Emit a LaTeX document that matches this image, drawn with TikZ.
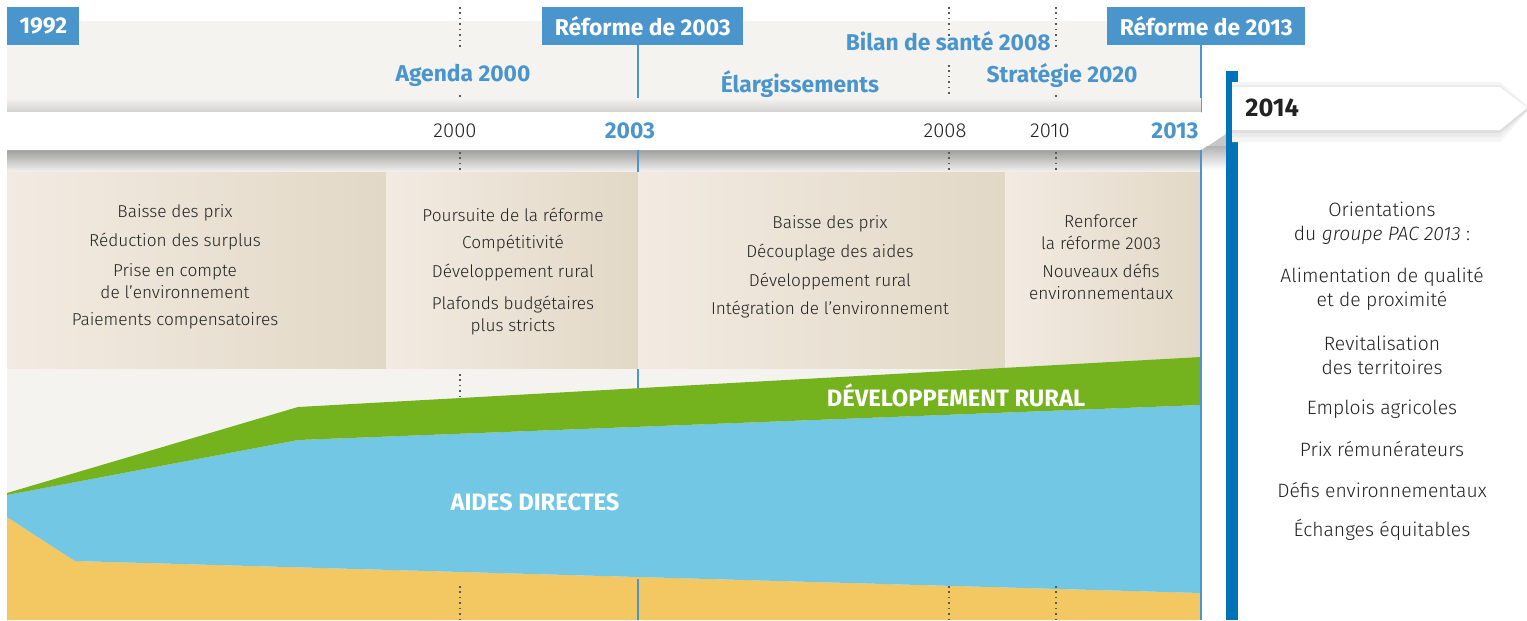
\documentclass[tikz,border=0pt]{standalone}
\usepackage{fontspec}
\setmainfont{Fira Sans}[UprightFont=* Light, ItalicFont=* Light Italic, BoldFont=* Bold]
\definecolor{pblue}{HTML}{4A95CC}
\definecolor{dblue}{HTML}{0072B9}
\definecolor{panel}{HTML}{F4F3F0}
\definecolor{beigeL}{HTML}{F2EBE2}
\definecolor{beigeR}{HTML}{E2D8C6}
\definecolor{rgreen}{HTML}{74B21E}
\definecolor{ablue}{HTML}{71C7E4}
\definecolor{ayel}{HTML}{F3C862}
\definecolor{txt}{HTML}{222222}
\begin{document}
\begin{tikzpicture}[x=0.02cm,y=-0.02cm,
  yrbox/.style={fill=pblue, text=white, font=\bfseries\fontsize{13}{15}\selectfont, inner sep=0, minimum height=0.76cm, anchor=north west},
  lbl/.style={font=\bfseries\fontsize{13}{15}\selectfont, text=pblue, inner sep=0},
  yr/.style={font=\fontsize{11.5}{13}\selectfont, text=txt, inner sep=0},
  byr/.style={font=\bfseries\fontsize{13}{15}\selectfont, text=pblue, inner sep=0},
  body/.style={font=\fontsize{9.8}{12.5}\selectfont, text=txt, align=center, inner sep=0},
  orient/.style={font=\fontsize{11}{13.6}\selectfont, text=txt, align=center, inner sep=0},
  area/.style={font=\bfseries\fontsize{13.5}{15}\selectfont, text=white, inner sep=0},
  dotline/.style={draw=black!65, line width=0.9pt, dash pattern=on 0.9pt off 2.2pt},
  bline/.style={draw=pblue, line width=1.1pt},
  beigebox/.style={left color=beigeL, right color=beigeR}
]
\useasboundingbox (0,0) rectangle (1527,620);
\fill[white] (0,0) rectangle (1527,620);
\fill[panel] (7,21) rectangle (1201,620);

% vertical blue lines (behind band)
\draw[bline] (638,45) -- (638,620);
\draw[bline] (1201,45) -- (1201,620);

% dotted lines top
\foreach \xx in {460,949,1056} {\draw[dotline] (\xx,7) -- (\xx,50);}
\draw[dotline] (460,95) -- (460,112);
\draw[dotline] (949,65) -- (949,112);
\draw[dotline] (1056,95) -- (1056,112);

% band shadows
\shade[top color=panel, bottom color=black!18] (7,98) rectangle (1201,112);
\shade[top color=black!38, bottom color=panel] (7,150) rectangle (1201,172);
\shade[top color=black!30, bottom color=white] (1202,146) rectangle (1226,170);
\fill[black!22] (1202,150) -- (1226,134) -- (1226,146) -- (1202,146) -- cycle;
% main band
\fill[white] (7,112) -- (1201,112) -- (1228,131) -- (1201,150) -- (7,150) -- cycle;

\foreach \xx in {460,949,1056} {\draw[dotline] (\xx,152) -- (\xx,172);}
\draw[bline] (638,150) -- (638,172);
\draw[bline] (1201,150) -- (1201,172);

% beige boxes
\shade[beigebox] (7,172) rectangle (386,368);
\shade[beigebox] (386,172) rectangle (638,368);
\shade[beigebox] (638,172) rectangle (1005,368);
\shade[beigebox] (1005,172) rectangle (1201,368);

% areas
\fill[ayel] (7,517) -- (75,561) -- (1201,593) -- (1201,620) -- (7,620) -- cycle;
\fill[ablue] (7,495) -- (298,440) -- (1201,405) -- (1201,593) -- (75,561) -- (7,517) -- cycle;
\fill[rgreen] (7,493) -- (298,407) -- (1201,357) -- (1201,405) -- (298,440) -- (7,495) -- cycle;

\draw[dotline] (460,374) -- (460,396);
\foreach \xx in {460,949,1056} {\draw[dotline] (\xx,586) -- (\xx,620);}
\draw[bline] (638,579) -- (638,620);
\draw[bline] (1201,172) -- (1201,620);

% top boxes
\node[yrbox, minimum width=1.44cm] (b1992) at (7,7) {1992};
\node[yrbox, minimum width=4.02cm] (b2003) at (542,7) {Réforme de 2003};
\node[yrbox, minimum width=3.96cm] (b2013) at (1107,7) {Réforme de 2013};

% labels
\node[lbl] (agenda) at (463,75) {Agenda 2000};
\node[lbl] (elarg) at (800,84) {Élargissements};
\node[lbl, anchor=east] (bilan) at (1051,41) {Bilan de santé 2008};
\node[lbl] (strat) at (1062,75) {Stratégie 2020};

% years
\node[yr] (y2000) at (455,131) {2000};
\node[byr] (y2003) at (630,131) {2003};
\node[yr] (y2008) at (945,131) {2008};
\node[yr] (y2010) at (1050,131) {2010};
\node[byr] (y2013) at (1175,131) {2013};

% box texts
\node[body] (a1) at (175,213) {Baisse des prix};
\node[body] (a2) at (175,242) {Réduction des surplus};
\node[body] (a3) at (175,281) {Prise en compte\\de l’environnement};
\node[body] (a4) at (175,321) {Paiements compensatoires};

\node[body] (c1) at (513,215) {Poursuite de la réforme};
\node[body] (c2) at (513,244) {Compétitivité};
\node[body] (c3) at (513,273) {Développement rural};
\node[body] (c4) at (513,316) {Plafonds budgétaires\\plus stricts};

\node[body] (d1) at (830,224) {Baisse des prix};
\node[body] (d2) at (830,253) {Découplage des aides};
\node[body] (d3) at (830,282) {Développement rural};
\node[body] (d4) at (830,310) {Intégration de l’environnement};

\node[body] (e1) at (1101,232) {Renforcer\\la réforme 2003};
\node[body] (e2) at (1101,282) {Nouveaux défis\\environnementaux};

% area labels
\node[area] (dev) at (956,395) {DÉVELOPPEMENT RURAL};
\node[area] (aides) at (535,502) {AIDES DIRECTES};

% right part
\fill[dblue] (1226,71) rectangle (1238,620);
\fill[black!4] (1232,82) -- (1500,82) -- (1530,108) -- (1500,142) -- (1232,142) -- cycle;
\fill[black!8] (1232,85) -- (1500,85) -- (1529,109) -- (1500,137) -- (1232,137) -- cycle;
\fill[black!13] (1232,87) -- (1500,87) -- (1528,110) -- (1500,133) -- (1232,133) -- cycle;
\fill[white] (1232,87) -- (1500,87) -- (1527,108) -- (1500,130) -- (1232,130) -- cycle;
\node[font=\bfseries\fontsize{14.5}{16}\selectfont, text=txt, inner sep=0, anchor=west] (y2014) at (1245,108) {2014};

\node[orient] (o1) at (1382,223) {Orientations\\du \textit{groupe PAC 2013} :};
\node[orient] (o2) at (1382,289) {Alimentation de qualité\\et de proximité};
\node[orient] (o3) at (1382,355) {Revitalisation\\des territoires};
\node[orient] (o4) at (1382,409) {Emplois agricoles};
\node[orient] (o5) at (1382,449) {Prix rémunérateurs};
\node[orient] (o6) at (1382,490) {Défis environnementaux};
\node[orient] (o7) at (1382,530) {Échanges équitables};
\end{tikzpicture}
\end{document}
